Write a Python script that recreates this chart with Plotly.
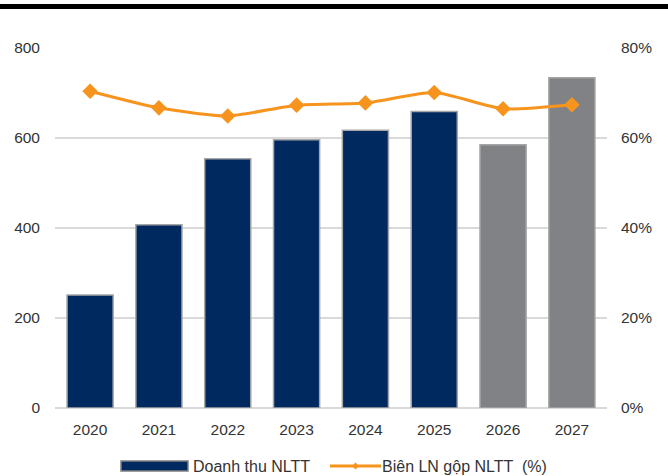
import plotly.graph_objects as go

# Doanh thu NLTT (bars) and gross margin (line) by year
years = ["2020", "2021", "2022", "2023", "2024", "2025", "2026", "2027"]
revenue = [251, 407, 554, 596, 617, 659, 585, 734]
margin_pct = [70.4, 66.7, 64.9, 67.3, 67.8, 70.1, 66.5, 67.4]
forecast = [False, False, False, False, False, False, True, True]
left_ticks = [0, 200, 400, 600, 800]
right_ticks = [0, 20, 40, 60, 80]

NAVY = "#002960"
GREY_BAR = "#808285"
ORANGE = "#F7941D"
FONT = "Liberation Sans, Arial, sans-serif"
TEXT = "#333333"
FS = 15.5
FS_LEG = 16

bar_colors = [GREY_BAR if f else NAVY for f in forecast]

fig = go.Figure()
fig.add_trace(go.Bar(
    x=years, y=revenue, name="Doanh thu NLTT",
    marker=dict(color=bar_colors, line=dict(color="#A6A6A6", width=1.5)),
    yaxis="y", showlegend=False,
))
fig.add_trace(go.Scatter(
    x=years, y=margin_pct, name="Biên LN gộp NLTT  (%)",
    mode="lines+markers", line=dict(color=ORANGE, width=3, shape="spline", smoothing=0.6),
    marker=dict(symbol="diamond", size=12, color=ORANGE),
    yaxis="y2", showlegend=False,
))

fig.update_layout(
    width=668, height=476,
    margin=dict(l=55, r=61, t=48, b=68),
    paper_bgcolor="white", plot_bgcolor="white",
    font=dict(family=FONT, size=FS, color=TEXT),
    bargap=0.33,
    xaxis=dict(showgrid=False, showline=False, ticks="", ticklabelstandoff=10,
               tickfont=dict(size=FS, color=TEXT)),
    yaxis=dict(range=[0, 800], tickvals=left_ticks, ticktext=[str(v) for v in left_ticks],
               showgrid=True, gridcolor="#D9D9D9", gridwidth=1.5, zeroline=True,
               zerolinecolor="#D9D9D9", zerolinewidth=1.5, ticks="", ticklabelstandoff=14,
               tickfont=dict(size=FS, color=TEXT)),
    yaxis2=dict(range=[0, 80], tickvals=right_ticks, ticktext=[f"{v}%" for v in right_ticks],
                overlaying="y", side="right", showgrid=False, zeroline=False, ticks="",
                ticklabelstandoff=13, tickfont=dict(size=FS, color=TEXT)),
)

# Black rule across the top of the page
fig.add_shape(type="rect", xref="paper", yref="paper", x0=-1, x1=2,
              y0=1 + (48 - 9) / 360, y1=1 + (48 - 4) / 360,
              fillcolor="black", line=dict(width=0), layer="above")

# Legend drawn below the axis
def py(pix):
    # convert a page pixel row to paper y
    return (408 - pix) / 360

def px(pix):
    return (pix - 55) / 552

fig.add_shape(type="rect", xref="paper", yref="paper",
              x0=px(121), x1=px(188), y0=py(471), y1=py(461),
              fillcolor=NAVY, line=dict(color="#808080", width=1.5))
fig.add_annotation(xref="paper", yref="paper", x=px(191), y=py(466), text="Doanh thu NLTT",
                   showarrow=False, xanchor="left", yanchor="middle",
                   font=dict(size=FS_LEG, color=TEXT, family=FONT))
fig.add_shape(type="line", xref="paper", yref="paper",
              x0=px(330), x1=px(381), y0=py(466), y1=py(466),
              line=dict(color=ORANGE, width=3))
fig.add_shape(type="path", xref="paper", yref="paper",
              path=f"M {px(355.5)} {py(462.5)} L {px(359)} {py(466)} L {px(355.5)} {py(469.5)} L {px(352)} {py(466)} Z",
              fillcolor=ORANGE, line=dict(width=0))
fig.add_annotation(xref="paper", yref="paper", x=px(380), y=py(466), text="Biên LN gộp NLTT  (%)",
                   showarrow=False, xanchor="left", yanchor="middle",
                   font=dict(size=FS_LEG, color=TEXT, family=FONT))

fig.write_html("out.html")
